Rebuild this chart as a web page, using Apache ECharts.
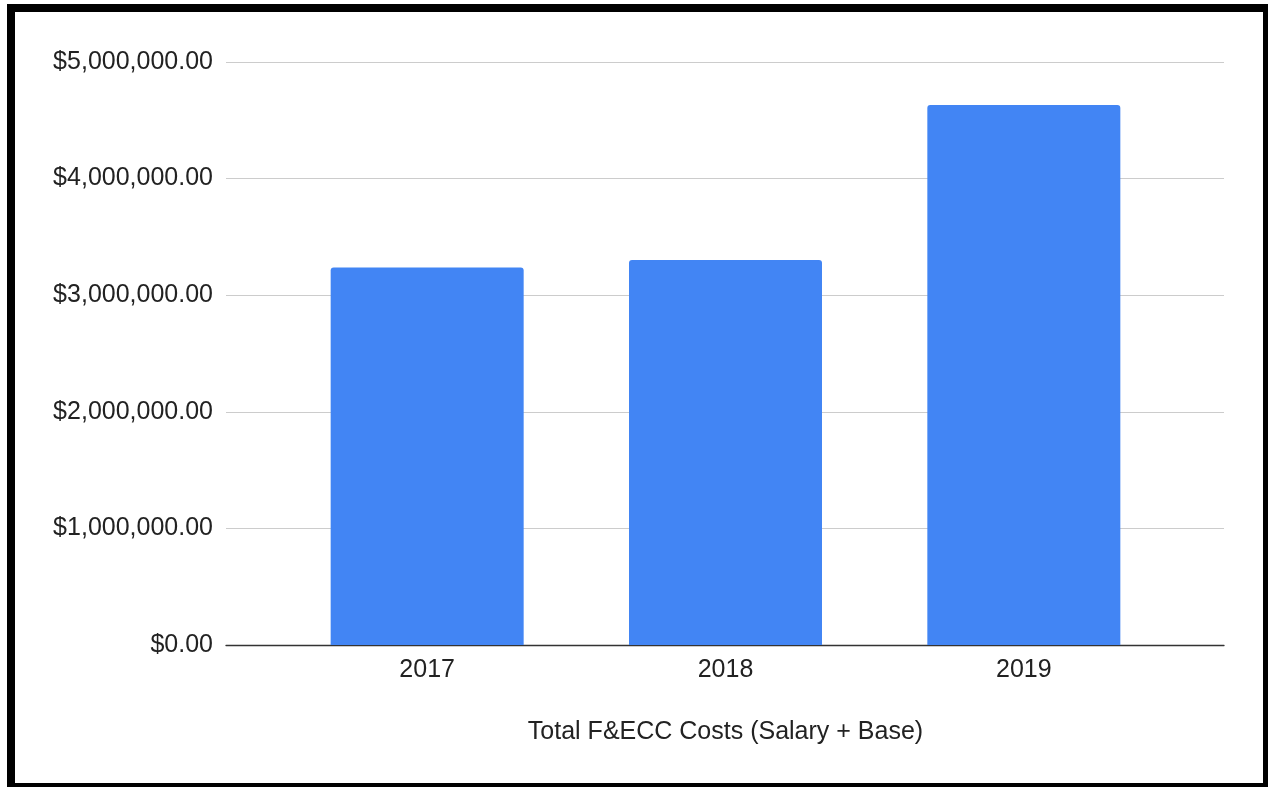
<!DOCTYPE html>
<html>
<head>
<meta charset="utf-8">
<title>Total F&amp;ECC Costs</title>
<script src="https://cdn.jsdelivr.net/npm/echarts@6/dist/echarts.min.js"></script>
<style>
  html, body { margin: 0; padding: 0; background: #fff; overflow: hidden; }
  #chart { position: absolute; left: 0; top: 0; width: 1268px; height: 787px; }
  #frame {
    position: absolute; left: 7px; top: 4px; width: 1264px; height: 787px;
    box-sizing: border-box; border: 8px solid #000; pointer-events: none;
  }
</style>
</head>
<body>
<div id="chart"></div>
<div id="frame"></div>
<script>
// Yearly totals
const years = ['2017', '2018', '2019'];
const totalCosts = [3238000, 3302000, 4631000];
const axisTicks = [0, 1000000, 2000000, 3000000, 4000000, 5000000];
const axisTitle = 'Total F&ECC Costs (Salary + Base)';

const FONT = 'Liberation Sans';
const TEXT = '#222';
const SIZE = 25;

function money(v) {
  return '$' + v.toLocaleString('en-US', { minimumFractionDigits: 2, maximumFractionDigits: 2 });
}

const chart = echarts.init(document.getElementById('chart'), null, { renderer: 'canvas' });

const yMin = axisTicks[0];
const yMax = axisTicks[axisTicks.length - 1];
const yStep = axisTicks[1] - axisTicks[0];

chart.setOption({
  backgroundColor: '#fff',
  animation: false,
  textStyle: { fontFamily: FONT },
  grid: [
    // full-width frame for gridlines, baseline and value labels
    { left: 226, right: 44, top: 62, bottom: 142 },
    // inner band where the columns sit
    { left: 278, right: 95, top: 62, bottom: 142 }
  ],
  xAxis: [
    {
      gridIndex: 0, type: 'category', data: [''],
      axisLine: { show: true, lineStyle: { color: '#333', width: 1.3 } },
      axisTick: { show: false }, axisLabel: { show: false }, splitLine: { show: false }
    },
    {
      gridIndex: 1, type: 'category', data: years,
      axisLine: { show: false }, axisTick: { show: false },
      axisLabel: { color: TEXT, fontSize: SIZE, fontFamily: FONT, margin: 13 },
      name: axisTitle, nameLocation: 'middle', nameGap: 75,
      nameTextStyle: { color: TEXT, fontSize: SIZE, fontFamily: FONT }
    }
  ],
  yAxis: [
    {
      gridIndex: 0, type: 'value', min: yMin, max: yMax, interval: yStep,
      axisLine: { show: false }, axisTick: { show: false },
      axisLabel: { color: TEXT, fontSize: SIZE, fontFamily: FONT, margin: 13, formatter: money },
      splitLine: { lineStyle: { color: '#cccccc', width: 1 } }
    },
    {
      gridIndex: 1, type: 'value', min: yMin, max: yMax, interval: yStep,
      axisLine: { show: false }, axisTick: { show: false },
      axisLabel: { show: false }, splitLine: { show: false }
    }
  ],
  series: [
    {
      type: 'bar', xAxisIndex: 1, yAxisIndex: 1,
      data: totalCosts, barWidth: 193,
      itemStyle: { color: '#4285F4', borderRadius: [3, 3, 0, 0] }
    }
  ]
});
</script>
</body>
</html>
